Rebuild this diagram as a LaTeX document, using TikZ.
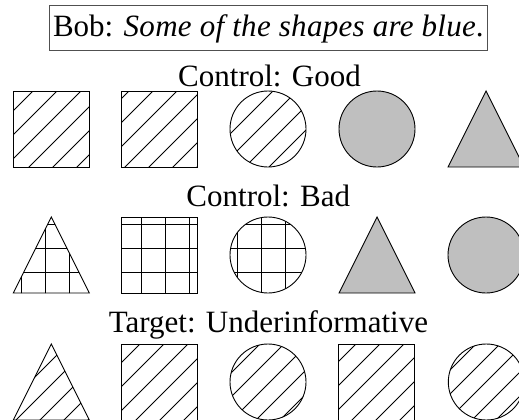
\documentclass[tikz,border=0pt]{standalone}
\usepackage{fontspec}
\setmainfont{Liberation Serif}
\definecolor{shapegray}{RGB}{191,191,191}
\definecolor{boxgray}{RGB}{80,80,80}
\newcommand{\shSq}[2]{(#1-38,#2) rectangle (#1+38,#2+76)}
\newcommand{\shCi}[2]{(#1,#2+38) circle[radius=38]}
\newcommand{\shTr}[2]{(#1,#2) -- (#1+38,#2+76) -- (#1-38,#2+76) -- cycle}
\begin{document}
\begin{tikzpicture}[x=1pt,y=-1pt,
  outline/.style={draw=black,line width=0.9pt},
  hatch/.style={draw=black,line width=0.9pt},
  label/.style={anchor=base,font=\fontsize{31}{36}\selectfont,inner sep=0pt}]
\useasboundingbox (0,0) rectangle (519,420);
% texts
\node[label,draw=boxgray,line width=0.8pt,inner sep=4pt,text height=27pt,text depth=10pt] (bob) at (268.4,36.7) {Bob: {\addfontfeature{LetterSpace=1.0}\itshape Some of the shapes are blue}.};
\node[label] (good) at (269.5,86) {Control: Good};
\node[label] (bad) at (268.3,206) {Control: Bad};
\node[label] (target) at (268.4,332.7) {Target: Underinformative};
% gray fills
\fill[shapegray] \shCi{377}{91};
\fill[shapegray] \shTr{486}{91};
\fill[shapegray] \shTr{377}{217};
\fill[shapegray] \shCi{486}{217};
% diagonal hatching
\begin{scope}
\clip \shSq{51.3}{91} \shSq{159.7}{91} \shCi{268}{91}
      \shTr{51.3}{344} \shSq{159.7}{344} \shCi{268}{344} \shSq{376.5}{344} \shCi{486.3}{344};
\foreach \k in {0,...,40} \draw[hatch] ({4+24*\k},0) -- ({4+24*\k-440},440);
\end{scope}
% grid hatching
\begin{scope}
\clip \shTr{51.3}{217} \shSq{159.7}{217} \shCi{268}{217};
\foreach \k in {-1,...,22} \draw[hatch] ({21.7+24*\k},0) -- ({21.7+24*\k},420);
\foreach \k in {0,...,18} \draw[hatch] (0,{8+24*\k}) -- (519,{8+24*\k});
\end{scope}
% outlines row 1
\draw[outline] \shSq{51.3}{91};
\draw[outline] \shSq{159.7}{91};
\draw[outline] \shCi{268}{91};
\draw[outline] \shCi{377}{91};
\draw[outline] \shTr{486}{91};
% outlines row 2
\draw[outline] \shTr{51.3}{217};
\draw[outline] \shSq{159.7}{217};
\draw[outline] \shCi{268}{217};
\draw[outline] \shTr{377}{217};
\draw[outline] \shCi{486}{217};
% outlines row 3
\draw[outline] \shTr{51.3}{344};
\draw[outline] \shSq{159.7}{344};
\draw[outline] \shCi{268}{344};
\draw[outline] \shSq{376.5}{344};
\draw[outline] \shCi{486.3}{344};
\end{tikzpicture}
\end{document}
